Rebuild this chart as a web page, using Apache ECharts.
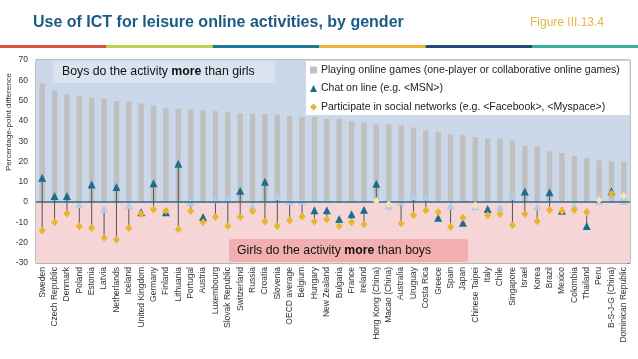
<!DOCTYPE html>
<html><head><meta charset="utf-8">
<script src="https://cdn.jsdelivr.net/npm/echarts@6/dist/echarts.min.js"></script>
<style>html,body{margin:0;padding:0;background:#fff}#c{width:638px;height:359px}</style>
</head><body><div id="c"></div>
<script>
const categories = ['Sweden','Czech Republic','Denmark','Poland','Estonia','Latvia','Netherlands','Iceland','United Kingdom','Germany','Finland','Lithuania','Portugal','Austria','Luxembourg','Slovak Republic','Switzerland','Russia','Croatia','Slovenia','OECD average','Belgium','Hungary','New Zealand','Bulgaria','France','Ireland','Hong Kong (China)','Macao (China)','Australia','Uruguay','Costa Rica','Greece','Spain','Japan','Chinese Taipei','Italy','Chile','Singapore','Israel','Korea','Brazil','Mexico','Colombia','Thailand','Peru','B-S-J-G (China)','Dominican Republic'];
const games = [58.5,55,53,52,51.4,51,49.8,49.6,48.6,47.6,46.5,46,45.7,45.2,44.8,44.3,43.8,43.5,43.4,43.2,42.5,42,42,41,41,39.8,39.3,38.3,38.3,38.1,36.7,35.3,34.8,33.3,33,32,31.5,31.2,30.4,27.9,27.4,25,24.2,22.8,21.8,20.5,20.1,19.8];
const chat = [12,3,3,-1,8.7,-3.2,7.4,-1.6,-5,9.3,-5,18.9,0,-7.3,1.4,2.2,5.6,-2,10,3,0.5,0.5,-4,-4,-8.3,-6,-3.8,9.1,-1.8,0.3,3,2.6,-7.7,-1.8,-10.2,-2,-3.4,-2.5,3,5.2,-2,4.8,-4.2,-1.8,-11.8,0.5,5.4,0.5];
const chatSig = [1,1,1,0,1,0,1,0,1,1,1,1,0,1,0,0,1,0,1,0,0,0,1,1,1,1,1,1,0,0,0,0,1,0,1,0,1,0,0,1,0,1,1,0,1,0,1,0];
const social = [-14,-9.9,-5.6,-11.9,-12.7,-17.6,-18.6,-12.7,-5.9,-3.6,-4.2,-13.4,-4.4,-9.9,-7.3,-11.8,-7.3,-4.5,-9.5,-11.8,-9.1,-7.1,-9.6,-8.5,-11.8,-9.9,-10.9,0.5,-1,-10.5,-6.5,-4,-4.9,-12.2,-7.7,-1.5,-6.5,-5.9,-11.4,-5.9,-9.4,-3.9,-4.4,-3.9,-4.9,1,4.1,3];
const socialSig = [1,1,1,1,1,1,1,1,1,1,1,1,1,1,1,1,1,1,1,1,1,1,1,1,1,1,1,0,0,1,1,1,1,1,1,0,1,1,1,1,1,1,1,1,1,0,1,0];
const seriesNames = ['Playing online games (one-player or collaborative online games)','Chat on line (e.g. <MSN>)','Participate in social networks (e.g. <Facebook>, <Myspace>)'];

const FONT = "'Liberation Sans', Arial, sans-serif";
const C_GAME = '#c0c0c0', C_CHAT = '#1b6d8e', C_CHAT_L = '#b7cce2', C_SOC = '#e7b631', C_SOC_L = '#f1e4b8';
const stripe = ['#d6533c','#c6d04f','#1b7898','#e8b737','#1e4f79','#37b39b'];

const chart = echarts.init(document.getElementById('c'), null, {renderer:'canvas'});
const graphics = [];
stripe.forEach((col, i) => graphics.push({type:'rect', left: i*106.4, top: 45, shape:{width:106.6, height:3}, style:{fill:col}, silent:true}));
graphics.push({type:'text', left:33, top:15, style:{text:'Use of ICT for leisure online activities, by gender', font:'bold 16px '+FONT, fill:'#1b5b86'}});
graphics.push({type:'text', left:530, top:17, style:{text:'Figure III.13.4', font:'12px '+FONT, fill:'#e3b747'}});
graphics.push({type:'text', x:9, y:122, rotation:Math.PI/2, style:{text:'Percentage-point difference', font:'8px '+FONT, fill:'#333', align:'center', verticalAlign:'middle'}});
graphics.push({type:'rect', x:306, y:61, z:3, shape:{width:323.5, height:54}, style:{fill:'#ffffff'}});
graphics.push({type:'rect', x:53, y:61, z:10, shape:{width:222, height:22}, style:{fill:'#dae4f0'}});
graphics.push({type:'text', x:62, y:72, z:11, style:{text:'{a|Boys do the activity }{b|more}{a| than girls}', verticalAlign:'middle', rich:{a:{font:'12.3px '+FONT, fill:'#111'}, b:{font:'bold 12.3px '+FONT, fill:'#111'}}}});
graphics.push({type:'rect', x:229, y:239, z:10, shape:{width:239, height:23, r:3}, style:{fill:'#f2afaf'}});
graphics.push({type:'text', x:237, y:251, z:11, style:{text:'{a|Girls do the activity }{b|more}{a| than boys}', verticalAlign:'middle', rich:{a:{font:'12.3px '+FONT, fill:'#111'}, b:{font:'bold 12.3px '+FONT, fill:'#111'}}}});

const option = {
  animation:false,
  textStyle:{fontFamily:FONT},
  graphic: graphics,
  grid:{left:36, right:8, top:60, bottom:96, show:true, borderColor:'#808080', borderWidth:1, backgroundColor:'transparent'},
  legend:{
    orient:'vertical', left:306, top:62, padding:[2,4,0,4], itemGap:6.5, itemWidth:7, itemHeight:7,
    backgroundColor:'transparent', borderWidth:0, z:5,
    textStyle:{fontSize:10.5, color:'#222', fontFamily:FONT, padding:[0,0,0,-1], lineHeight:12},
    data:[{name:seriesNames[0], icon:'rect'},{name:seriesNames[1], icon:'triangle'},{name:seriesNames[2], icon:'diamond'}]
  },
  xAxis:{type:'category', data:categories, axisLine:{show:false}, axisTick:{show:false},
    axisLabel:{rotate:90, interval:0, fontSize:8.5, color:'#333', margin:4, fontFamily:FONT}},
  yAxis:[
    {type:'value', min:-30, max:70, interval:10, axisLine:{show:true, lineStyle:{color:'#808080'}}, axisTick:{show:false},
     axisLabel:{fontSize:8.5, color:'#333', margin:8, fontFamily:FONT}, splitLine:{show:true, lineStyle:{color:'rgba(110,110,110,0.10)'}}},
    {type:'value', min:-30, max:70, interval:10, position:'right', axisLine:{show:false}, axisLabel:{show:false},
     axisTick:{show:true, inside:true, length:3, lineStyle:{color:'#808080'}}, splitLine:{show:false}}
  ],
  series:[
    {type:'line', name:'bg', data:[], z:0, silent:true,
     markArea:{silent:true, itemStyle:{opacity:1}, data:[
       [{yAxis:0, itemStyle:{color:'#cbd8e9'}},{yAxis:70}],
       [{yAxis:-30, itemStyle:{color:'#f5d5d5'}},{yAxis:0}]
     ]}},
    {type:'bar', name:seriesNames[0], data:games, barWidth:5.5, z:2, itemStyle:{color:C_GAME}},
    {type:'custom', name:'hilo', z:3, silent:true,
     data: categories.map((c,i)=>[i, chat[i], social[i]]),
     encode:{x:0, y:[1,2]},
     renderItem:(params, api)=>{
       const i = api.value(0);
       const p1 = api.coord([i, api.value(1)]);
       const p2 = api.coord([i, api.value(2)]);
       return {type:'line', shape:{x1:p1[0], y1:p1[1], x2:p2[0], y2:p2[1]}, style:{stroke:'#555', lineWidth:1}};
     },
     markLine:{silent:true, symbol:'none', label:{show:false}, lineStyle:{color:'#2a6a8c', width:1.5, type:'solid'}, data:[{yAxis:0}]}
    },
    {type:'scatter', name:seriesNames[1], symbol:'triangle', symbolSize:[8,8], z:4, itemStyle:{color:C_CHAT, opacity:1},
     data: chat.map((v,i)=>({value:v, itemStyle:{color: chatSig[i] ? C_CHAT : C_CHAT_L}}))},
    {type:'scatter', name:seriesNames[2], symbol:'diamond', symbolSize:[7,8], z:5, itemStyle:{color:C_SOC, opacity:1},
     data: social.map((v,i)=>({value:v, itemStyle:{color: socialSig[i] ? C_SOC : C_SOC_L}}))}
  ]
};
chart.setOption(option);
</script></body></html>
